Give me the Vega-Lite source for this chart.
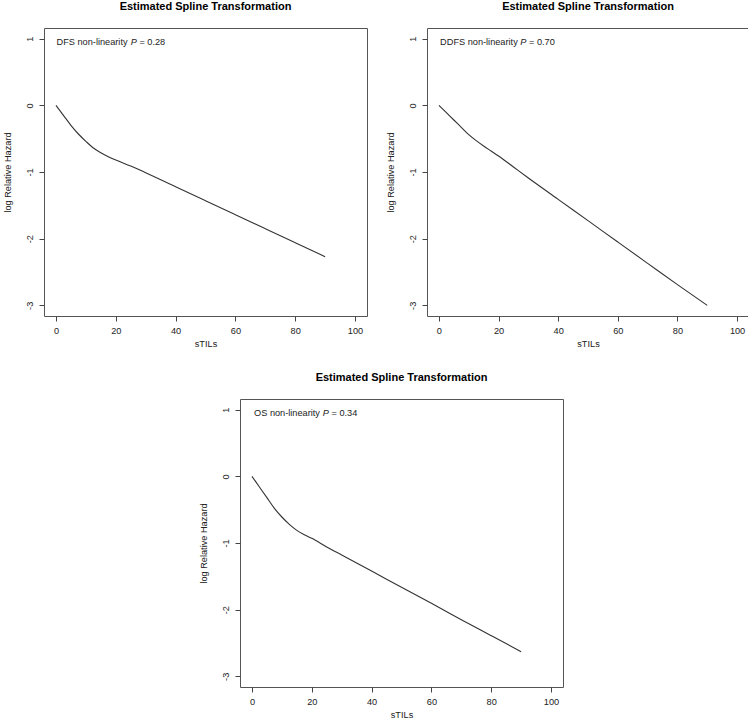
{
  "$schema": "https://vega.github.io/schema/vega-lite/v6.json",
  "background": "white",
  "padding": {"left": 2, "top": 0, "right": 2, "bottom": 0},
  "datasets": {
    "curves": [
      {"panel": "DFS", "x": 0, "y": 0}, {"panel": "DFS", "x": 2.5, "y": -0.15}, {"panel": "DFS", "x": 5, "y": -0.30}, {"panel": "DFS", "x": 7.5, "y": -0.43}, {"panel": "DFS", "x": 10, "y": -0.54}, {"panel": "DFS", "x": 12.5, "y": -0.64}, {"panel": "DFS", "x": 15, "y": -0.71}, {"panel": "DFS", "x": 17.5, "y": -0.77}, {"panel": "DFS", "x": 20, "y": -0.82}, {"panel": "DFS", "x": 25, "y": -0.91}, {"panel": "DFS", "x": 30, "y": -1.01}, {"panel": "DFS", "x": 40, "y": -1.22}, {"panel": "DFS", "x": 50, "y": -1.43}, {"panel": "DFS", "x": 60, "y": -1.64}, {"panel": "DFS", "x": 70, "y": -1.85}, {"panel": "DFS", "x": 80, "y": -2.06}, {"panel": "DFS", "x": 90, "y": -2.27},
      {"panel": "DDFS", "x": 0, "y": 0}, {"panel": "DDFS", "x": 2.5, "y": -0.11}, {"panel": "DDFS", "x": 5, "y": -0.22}, {"panel": "DDFS", "x": 7.5, "y": -0.33}, {"panel": "DDFS", "x": 10, "y": -0.44}, {"panel": "DDFS", "x": 12.5, "y": -0.53}, {"panel": "DDFS", "x": 15, "y": -0.61}, {"panel": "DDFS", "x": 17.5, "y": -0.685}, {"panel": "DDFS", "x": 20, "y": -0.76}, {"panel": "DDFS", "x": 25, "y": -0.925}, {"panel": "DDFS", "x": 30, "y": -1.09}, {"panel": "DDFS", "x": 40, "y": -1.41}, {"panel": "DDFS", "x": 50, "y": -1.73}, {"panel": "DDFS", "x": 60, "y": -2.05}, {"panel": "DDFS", "x": 70, "y": -2.37}, {"panel": "DDFS", "x": 80, "y": -2.69}, {"panel": "DDFS", "x": 90, "y": -3.0},
      {"panel": "OS", "x": 0, "y": 0}, {"panel": "OS", "x": 2.5, "y": -0.16}, {"panel": "OS", "x": 5, "y": -0.32}, {"panel": "OS", "x": 7.5, "y": -0.48}, {"panel": "OS", "x": 10, "y": -0.61}, {"panel": "OS", "x": 12.5, "y": -0.72}, {"panel": "OS", "x": 15, "y": -0.81}, {"panel": "OS", "x": 17.5, "y": -0.875}, {"panel": "OS", "x": 20, "y": -0.93}, {"panel": "OS", "x": 25, "y": -1.06}, {"panel": "OS", "x": 30, "y": -1.18}, {"panel": "OS", "x": 40, "y": -1.42}, {"panel": "OS", "x": 50, "y": -1.665}, {"panel": "OS", "x": 60, "y": -1.905}, {"panel": "OS", "x": 70, "y": -2.15}, {"panel": "OS", "x": 80, "y": -2.39}, {"panel": "OS", "x": 90, "y": -2.63}
    ],
    "notes": [
      {"panel": "DFS", "lead": "DFS non-linearity", "p": "P", "val": "= 0.28"},
      {"panel": "DDFS", "lead": "DDFS non-linearity", "p": "P", "val": "= 0.70"},
      {"panel": "OS", "lead": "OS non-linearity", "p": "P", "val": "= 0.34"}
    ]
  },
  "spacing": 21,
  "vconcat": [
    {
      "spacing": 17,
      "hconcat": [
        {
          "width": 323, "height": 288,
          "title": "Estimated Spline Transformation",
          "layer": [
            {"data": {"name": "curves"}, "transform": [{"filter": "datum.panel === 'DFS'"}],
             "mark": {"type": "line", "color": "#333333", "strokeWidth": 1.1, "interpolate": "monotone"},
             "encoding": {
               "x": {"field": "x", "type": "quantitative", "scale": {"domain": [-4, 104], "nice": false, "zero": false}, "axis": {"title": "sTILs", "values": [0, 20, 40, 60, 80, 100]}},
               "y": {"field": "y", "type": "quantitative", "scale": {"domain": [-3.16, 1.16], "nice": false, "zero": false}, "axis": {"title": "log Relative Hazard", "values": [-3, -2, -1, 0, 1], "labelExpr": "'' + datum.value"}}
             }},
            {"data": {"name": "notes"}, "transform": [{"filter": "datum.panel === 'DFS'"}],
             "mark": {"type": "text", "align": "left", "baseline": "middle", "font": "Liberation Sans", "fontSize": 9.2, "color": "#222222"},
             "encoding": {"x": {"datum": 0.2, "type": "quantitative"}, "y": {"datum": 0.95, "type": "quantitative"}, "text": {"field": "lead"}}},
            {"data": {"name": "notes"}, "transform": [{"filter": "datum.panel === 'DFS'"}],
             "mark": {"type": "text", "align": "left", "baseline": "middle", "font": "Liberation Sans", "fontSize": 9.2, "fontStyle": "italic", "color": "#222222"},
             "encoding": {"x": {"datum": 25.0, "type": "quantitative"}, "y": {"datum": 0.95, "type": "quantitative"}, "text": {"field": "p"}}},
            {"data": {"name": "notes"}, "transform": [{"filter": "datum.panel === 'DFS'"}],
             "mark": {"type": "text", "align": "left", "baseline": "middle", "font": "Liberation Sans", "fontSize": 9.2, "color": "#222222"},
             "encoding": {"x": {"datum": 27.9, "type": "quantitative"}, "y": {"datum": 0.95, "type": "quantitative"}, "text": {"field": "val"}}}
          ]
        },
        {
          "width": 322, "height": 288,
          "title": "Estimated Spline Transformation",
          "layer": [
            {"data": {"name": "curves"}, "transform": [{"filter": "datum.panel === 'DDFS'"}],
             "mark": {"type": "line", "color": "#333333", "strokeWidth": 1.1, "interpolate": "monotone"},
             "encoding": {
               "x": {"field": "x", "type": "quantitative", "scale": {"domain": [-4, 104], "nice": false, "zero": false}, "axis": {"title": "sTILs", "values": [0, 20, 40, 60, 80, 100]}},
               "y": {"field": "y", "type": "quantitative", "scale": {"domain": [-3.16, 1.16], "nice": false, "zero": false}, "axis": {"title": "log Relative Hazard", "values": [-3, -2, -1, 0, 1], "labelExpr": "'' + datum.value"}}
             }},
            {"data": {"name": "notes"}, "transform": [{"filter": "datum.panel === 'DDFS'"}],
             "mark": {"type": "text", "align": "left", "baseline": "middle", "font": "Liberation Sans", "fontSize": 9.2, "color": "#222222"},
             "encoding": {"x": {"datum": 0.4, "type": "quantitative"}, "y": {"datum": 0.95, "type": "quantitative"}, "text": {"field": "lead"}}},
            {"data": {"name": "notes"}, "transform": [{"filter": "datum.panel === 'DDFS'"}],
             "mark": {"type": "text", "align": "left", "baseline": "middle", "font": "Liberation Sans", "fontSize": 9.2, "fontStyle": "italic", "color": "#222222"},
             "encoding": {"x": {"datum": 27.3, "type": "quantitative"}, "y": {"datum": 0.95, "type": "quantitative"}, "text": {"field": "p"}}},
            {"data": {"name": "notes"}, "transform": [{"filter": "datum.panel === 'DDFS'"}],
             "mark": {"type": "text", "align": "left", "baseline": "middle", "font": "Liberation Sans", "fontSize": 9.2, "color": "#222222"},
             "encoding": {"x": {"datum": 30.2, "type": "quantitative"}, "y": {"datum": 0.95, "type": "quantitative"}, "text": {"field": "val"}}}
          ]
        }
      ]
    },
    {
      "spacing": 18,
      "hconcat": [
        {"width": 136, "height": 288, "data": {"values": []}, "mark": "point", "view": {"stroke": null}},
        {
          "width": 323, "height": 288,
          "title": "Estimated Spline Transformation",
          "layer": [
            {"data": {"name": "curves"}, "transform": [{"filter": "datum.panel === 'OS'"}],
             "mark": {"type": "line", "color": "#333333", "strokeWidth": 1.1, "interpolate": "monotone"},
             "encoding": {
               "x": {"field": "x", "type": "quantitative", "scale": {"domain": [-4, 104], "nice": false, "zero": false}, "axis": {"title": "sTILs", "values": [0, 20, 40, 60, 80, 100]}},
               "y": {"field": "y", "type": "quantitative", "scale": {"domain": [-3.16, 1.16], "nice": false, "zero": false}, "axis": {"title": "log Relative Hazard", "values": [-3, -2, -1, 0, 1], "labelExpr": "'' + datum.value"}}
             }},
            {"data": {"name": "notes"}, "transform": [{"filter": "datum.panel === 'OS'"}],
             "mark": {"type": "text", "align": "left", "baseline": "middle", "font": "Liberation Sans", "fontSize": 9.2, "color": "#222222"},
             "encoding": {"x": {"datum": 0.7, "type": "quantitative"}, "y": {"datum": 0.95, "type": "quantitative"}, "text": {"field": "lead"}}},
            {"data": {"name": "notes"}, "transform": [{"filter": "datum.panel === 'OS'"}],
             "mark": {"type": "text", "align": "left", "baseline": "middle", "font": "Liberation Sans", "fontSize": 9.2, "fontStyle": "italic", "color": "#222222"},
             "encoding": {"x": {"datum": 23.7, "type": "quantitative"}, "y": {"datum": 0.95, "type": "quantitative"}, "text": {"field": "p"}}},
            {"data": {"name": "notes"}, "transform": [{"filter": "datum.panel === 'OS'"}],
             "mark": {"type": "text", "align": "left", "baseline": "middle", "font": "Liberation Sans", "fontSize": 9.2, "color": "#222222"},
             "encoding": {"x": {"datum": 26.6, "type": "quantitative"}, "y": {"datum": 0.95, "type": "quantitative"}, "text": {"field": "val"}}}
          ]
        }
      ]
    }
  ],
  "config": {
    "font": "Liberation Sans",
    "view": {"stroke": "#555555", "strokeWidth": 1},
    "title": {"font": "Liberation Sans", "fontSize": 11, "fontWeight": "bold", "color": "#000000", "anchor": "middle", "offset": 16},
    "axis": {
      "domain": false, "grid": false,
      "tickSize": 5, "tickColor": "#444444", "tickWidth": 1,
      "labelFont": "Liberation Sans", "labelFontSize": 9.2, "labelColor": "#222222",
      "titleFont": "Liberation Sans", "titleFontSize": 9.2, "titleFontWeight": "normal", "titleColor": "#222222"
    },
    "axisX": {"labelPadding": 5, "titlePadding": 4.5},
    "axisY": {"labelAngle": -90, "labelAlign": "center", "labelBaseline": "bottom", "labelPadding": 5, "titlePadding": 13}
  }
}
